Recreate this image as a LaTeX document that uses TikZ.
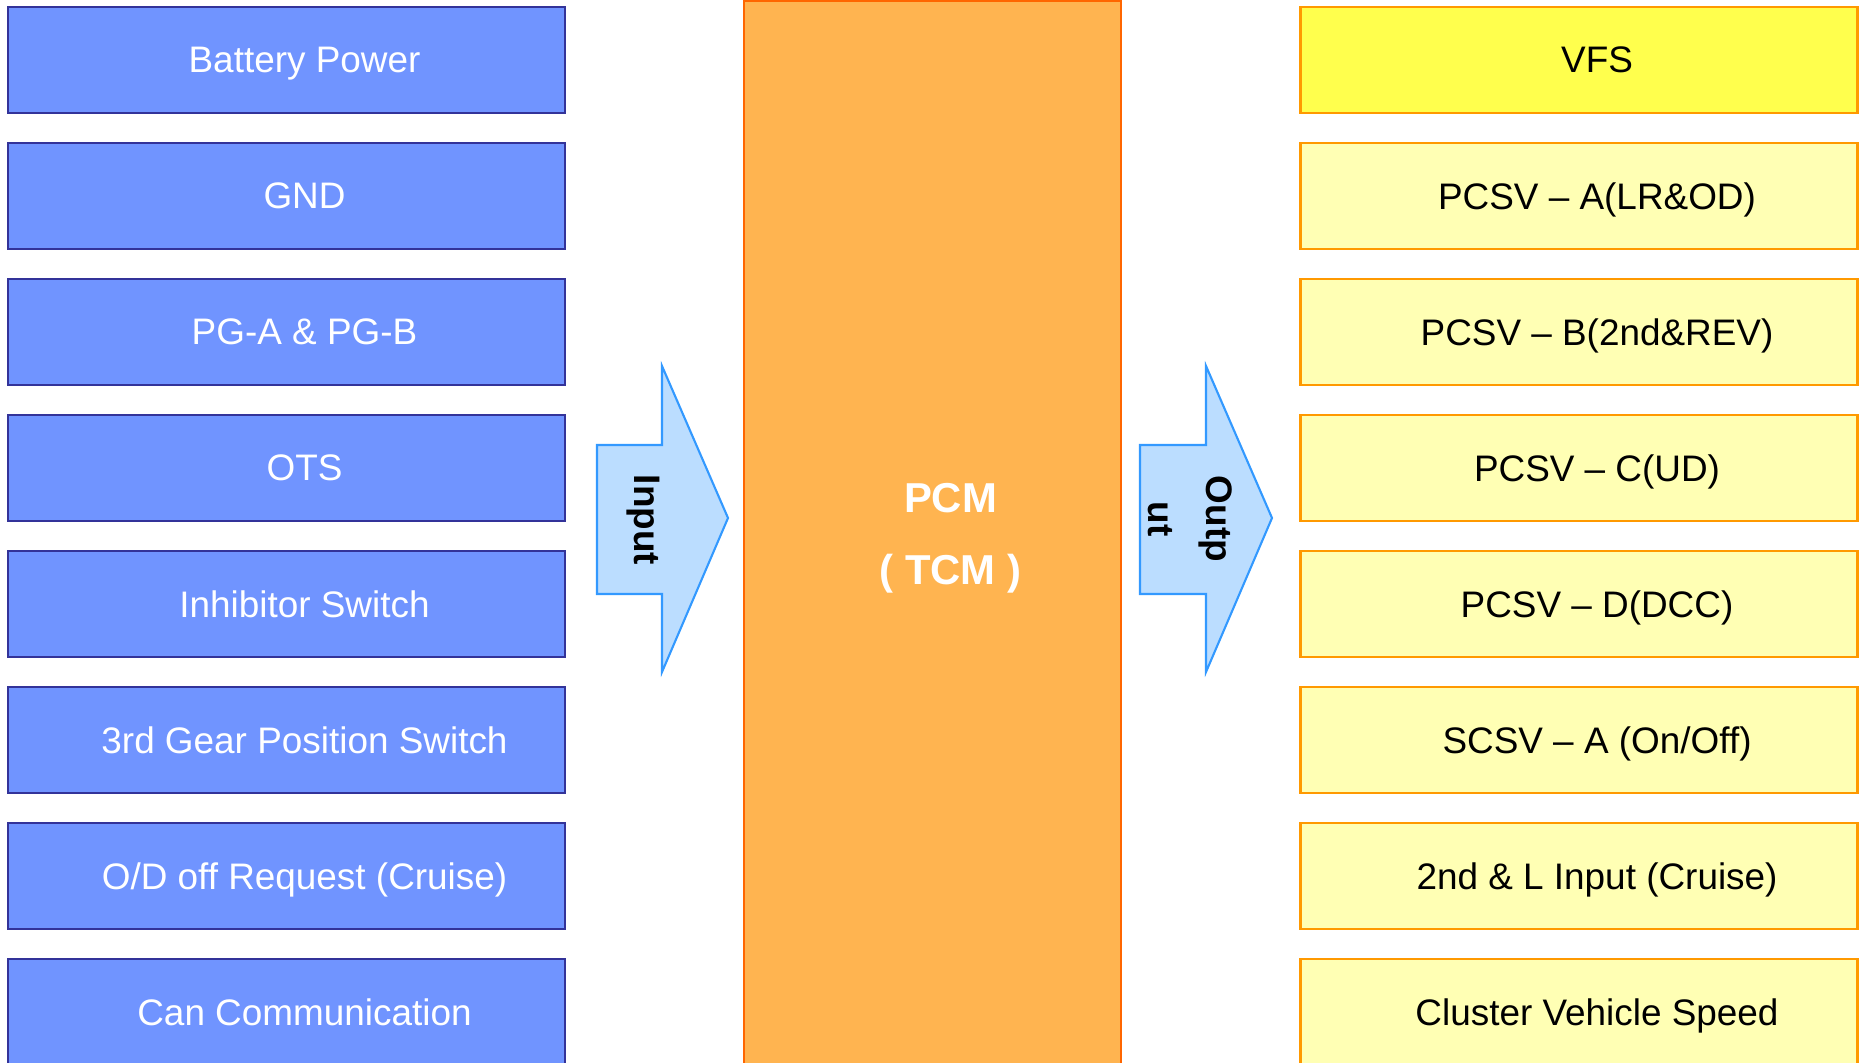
\documentclass[tikz,border=0pt]{standalone}
\usepackage{fontspec}
\setmainfont{Liberation Sans}
\usepackage{xcolor}
\definecolor{inNavy}{RGB}{51,51,153}
\definecolor{inBlue}{RGB}{112,148,255}
\definecolor{pcmEdge}{RGB}{255,102,0}
\definecolor{pcmFill}{RGB}{255,180,80}
\definecolor{outEdge}{RGB}{255,153,0}
\definecolor{outFill}{RGB}{255,255,180}
\definecolor{vfsFill}{RGB}{255,255,77}
\definecolor{flowEdge}{RGB}{51,153,255}
\definecolor{flowFill}{RGB}{187,221,255}
\tikzset{
  sigbox/.style={line width=.6pt,minimum width=5.57cm,minimum height=1.06cm,inner sep=0pt,text depth=0pt,
    font=\fontsize{10.5}{12.6}\selectfont,execute at begin node={\hspace*{.36cm}}},
  inbox/.style={sigbox,draw=inNavy,fill=inBlue,text=white},
  outbox/.style={sigbox,draw=outEdge,fill=outFill,text=black},
  flowarrow/.style={draw=flowEdge,fill=flowFill,line width=.6pt,line join=miter},
  flowtext/.style={rotate=-90,align=center,inner sep=0pt,font=\bfseries\fontsize{10.5}{16.4}\selectfont}
}
\begin{document}
\begin{tikzpicture}
\useasboundingbox (0,0) rectangle (18.6,-10.63);
% input signals
\node[inbox] (bat) at (2.865,-0.60) {Battery Power};
\node[inbox] (gnd) at (2.865,-1.96) {GND};
\node[inbox] (pg) at (2.865,-3.32) {PG-A \& PG-B};
\node[inbox] (ots) at (2.865,-4.68) {OTS};
\node[inbox] (inh) at (2.865,-6.04) {Inhibitor Switch};
\node[inbox] (gear) at (2.865,-7.40) {3rd Gear Position Switch};
\node[inbox] (odoff) at (2.865,-8.76) {O/D off Request (Cruise)};
\node[inbox] (can) at (2.865,-10.12) {Can Communication};
% control module
\node[draw=pcmEdge,fill=pcmFill,line width=.6pt,minimum width=3.77cm,minimum height=10.66cm,inner sep=0pt] (pcm) at (9.325,-5.34) {};
\node[text=white,align=center,inner sep=0pt,font=\bfseries\fontsize{11.9}{20.4}\selectfont] (pcmname) at ([xshift=.18cm,yshift=-.04cm]pcm.center) {PCM\\( TCM )};
% flow arrows
\draw[flowarrow] (5.97,-4.45) -- (6.62,-4.45) -- (6.62,-3.66) -- (7.28,-5.18) -- (6.62,-6.72) -- (6.62,-5.94) -- (5.97,-5.94) -- cycle;
\node[flowtext] (inlbl) at (6.435,-5.20) {Input};
\draw[flowarrow] (11.40,-4.45) -- (12.06,-4.45) -- (12.06,-3.66) -- (12.72,-5.18) -- (12.06,-6.72) -- (12.06,-5.94) -- (11.40,-5.94) -- cycle;
\node[flowtext] (outlbl) at (11.90,-5.19) {Outp\\ut};
% output signals
\node[outbox,fill=vfsFill] (vfs) at (15.79,-0.60) {VFS};
\node[outbox] (pcsva) at (15.79,-1.96) {PCSV – A(LR\&OD)};
\node[outbox] (pcsvb) at (15.79,-3.32) {PCSV – B(2nd\&REV)};
\node[outbox] (pcsvc) at (15.79,-4.68) {PCSV – C(UD)};
\node[outbox] (pcsvd) at (15.79,-6.04) {PCSV – D(DCC)};
\node[outbox] (scsva) at (15.79,-7.40) {SCSV – A (On/Off)};
\node[outbox] (cruise) at (15.79,-8.76) {2nd \& L Input (Cruise)};
\node[outbox] (speed) at (15.79,-10.12) {Cluster Vehicle Speed};
\end{tikzpicture}
\end{document}
